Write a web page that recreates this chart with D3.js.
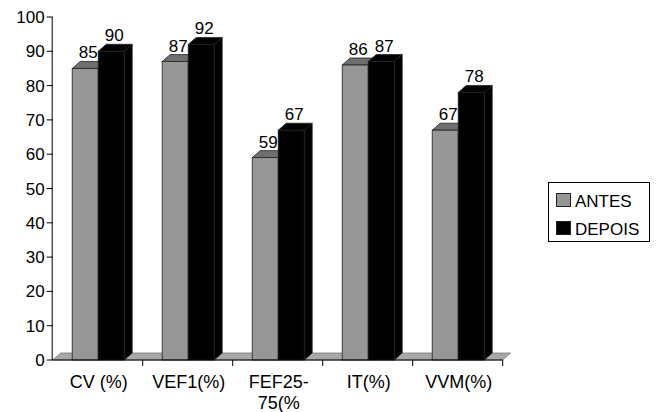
<!DOCTYPE html>
<html>
<head>
<meta charset="utf-8">
<script src="https://cdn.jsdelivr.net/npm/d3@7"></script>
<style>
  body { margin: 0; background: #fff; }
  text { font-family: "Liberation Sans", Arial, sans-serif; fill: #000; }
</style>
</head>
<body>
<div id="chart"></div>
<script>
// values
const categories = ["CV (%)", "VEF1(%)", "FEF25-\n75(%", "IT(%)", "VVM(%)"];
const antes = [85, 87, 59, 86, 67];
const depois = [90, 92, 67, 87, 78];
const seriesNames = ["ANTES", "DEPOIS"];
const yTicks = [0, 10, 20, 30, 40, 50, 60, 70, 80, 90, 100];

const width = 661, height = 412;
const depthX = 8, depthY = 7; // fake 3d offset
const barW = 26;

const colors = {
    ANTES: { front: "#969696", top: "#6f6f6f", side: "#5a5a5a" },
    DEPOIS: { front: "#000", top: "#000", side: "#000" }
};

const svg = d3.select("#chart").append("svg")
    .attr("width", width)
    .attr("height", height);

const x = d3.scaleBand().domain(categories).range([52.7, 502.7]);
const y = d3.scaleLinear().domain([0, 100]).range([360, 17]);

const x0 = x.range()[0], x1 = x.range()[1], y0 = y(0);

// floor
svg.append("path")
    .attr("d", `M${x0},${y0} L${x0 + depthX},${y0 - depthY} L${x1 + depthX},${y0 - depthY} L${x1},${y0} Z`)
    .attr("fill", "#a8a8a8")
    .attr("stroke", "#7a7a7a")
    .attr("stroke-width", 0.8);

// bars
const rows = categories.map((c, i) => ({ cat: c, vals: [antes[i], depois[i]] }));

rows.forEach(r => {
    r.vals.forEach((v, j) => {
        const name = seriesNames[j];
        const bx = x(r.cat) + x.bandwidth() / 2 - 25.5 + j * barW;
        const by = y(v);
        const g = svg.append("g");
        // side
        g.append("path")
            .attr("d", `M${bx + barW},${y0} L${bx + barW},${by} L${bx + barW + depthX},${by - depthY} L${bx + barW + depthX},${y0 - depthY} Z`)
            .attr("fill", colors[name].side)
            .attr("stroke", "#222").attr("stroke-width", 0.8);
        // top
        g.append("path")
            .attr("d", `M${bx},${by} L${bx + depthX},${by - depthY} L${bx + barW + depthX},${by - depthY} L${bx + barW},${by} Z`)
            .attr("fill", colors[name].top)
            .attr("stroke", "#222").attr("stroke-width", 0.8);
        // front
        g.append("rect")
            .attr("x", bx).attr("y", by)
            .attr("width", barW).attr("height", y0 - by)
            .attr("fill", colors[name].front)
            .attr("stroke", "#222").attr("stroke-width", 0.8);
        // value label
        svg.append("text")
            .attr("x", bx + barW / 2 + 3)
            .attr("y", by - 10)
            .attr("text-anchor", "middle")
            .attr("font-size", "17px")
            .text(v);
    });
});

// y axis
svg.append("line")
    .attr("x1", x0 - 0.5).attr("x2", x0 - 0.5)
    .attr("y1", y(100)).attr("y2", y0)
    .attr("stroke", "#000");

yTicks.forEach(t => {
    svg.append("line")
        .attr("x1", x0 - 6).attr("x2", x0)
        .attr("y1", y(t)).attr("y2", y(t))
        .attr("stroke", "#000");
    svg.append("text")
        .attr("x", x0 - 8)
        .attr("y", y(t) + 6)
        .attr("text-anchor", "end")
        .attr("font-size", "17px")
        .text(t);
});

// x axis
svg.append("line")
    .attr("x1", x0 - 0.5).attr("x2", x1)
    .attr("y1", y0).attr("y2", y0)
    .attr("stroke", "#000");

categories.forEach((c, i) => {
    const bx = x(c) + x.bandwidth();
    svg.append("line")
        .attr("x1", bx).attr("x2", bx)
        .attr("y1", y0).attr("y2", y0 + 6)
        .attr("stroke", "#000");
    const lines = c.split("\n");
    const txt = svg.append("text")
        .attr("text-anchor", "middle")
        .attr("font-size", "18px");
    lines.forEach((l, k) => {
        txt.append("tspan")
            .attr("x", x(c) + x.bandwidth() / 2 + 1)
            .attr("y", 388 + k * 21)
            .text(l);
    });
});

// legend
const legend = svg.append("g");
legend.append("rect")
    .attr("x", 548.5).attr("y", 182.5)
    .attr("width", 101).attr("height", 59)
    .attr("fill", "#fff")
    .attr("stroke", "#000");

seriesNames.forEach((s, i) => {
    legend.append("rect")
        .attr("x", 556.5).attr("y", 193.5 + i * 28)
        .attr("width", 14).attr("height", 13)
        .attr("fill", colors[s].front)
        .attr("stroke", "#222");
    legend.append("text")
        .attr("x", 575)
        .attr("y", 207 + i * 28)
        .attr("font-size", "17px")
        .text(s);
});
</script>
</body>
</html>
